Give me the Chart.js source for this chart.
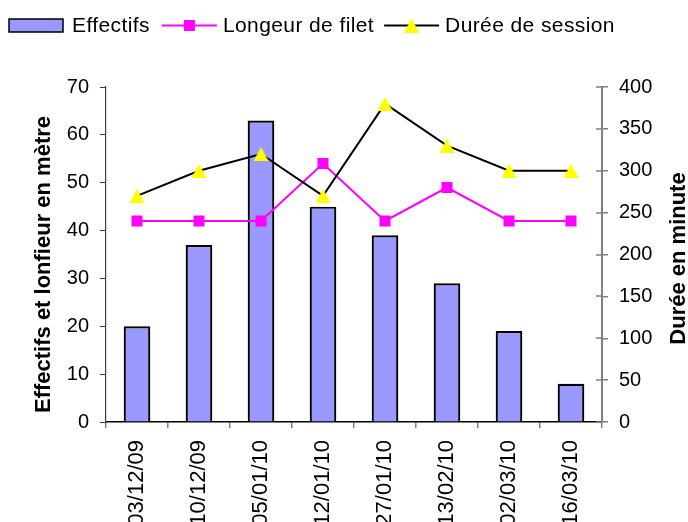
<!DOCTYPE html>
<html>
<head>
<meta charset="utf-8">
<script src="https://cdn.jsdelivr.net/npm/chart.js@4.4.1/dist/chart.umd.min.js"></script>
<style>
  html, body { margin: 0; padding: 0; background: #ffffff; }
  #wrap { width: 688px; height: 522px; }
</style>
</head>
<body>
<div id="wrap"><canvas id="c" width="688" height="522"></canvas></div>
<script>
// Fishing sessions: catch counts, net length (m) and session duration (min)
const dates = ['03/12/09', '10/12/09', '05/01/10', '12/01/10', '27/01/10', '13/02/10', '02/03/10', '16/03/10'];
const effectifs = [20, 37, 63, 45, 39, 29, 19, 8];
const longueurFilet = [42, 42, 42, 54, 42, 49, 42, 42];
const dureeSession = [270, 300, 320, 270, 380, 330, 300, 300];

const leftAxisRange = [0, 70, 10];    // min, max, step
const rightAxisRange = [0, 400, 50];  // min, max, step

const seriesNames = ['Effectifs', 'Longeur de filet', 'Durée de session'];
const axisTitles = ['Effectifs et lonfieur en mètre', 'Durée en minute'];

const FONT = '"Liberation Sans", Arial, sans-serif';

// Yellow triangle marker, centred on its bounding box
function triangleMarker(w, h, color) {
  const cv = document.createElement('canvas');
  cv.width = w; cv.height = h;
  const g = cv.getContext('2d');
  g.fillStyle = color;
  g.beginPath();
  g.moveTo(w / 2, 0);
  g.lineTo(w, h);
  g.lineTo(0, h);
  g.closePath();
  g.fill();
  return cv;
}
const triImg = triangleMarker(15, 14, '#FFFF00');

// Legend drawn in the Excel style: swatch / line+marker followed by the name
const seriesKey = {
  id: 'seriesKey',
  afterDraw(chart) {
    const ctx = chart.ctx;
    ctx.save();
    ctx.font = '21px ' + FONT;
    if ('letterSpacing' in ctx) ctx.letterSpacing = '0.4px';
    ctx.textBaseline = 'alphabetic';
    ctx.fillStyle = '#000';
    const cy = 25.5;
    let x = 9;
    chart.data.datasets.forEach((ds, i) => {
      if (ds.type === 'bar') {
        ctx.fillStyle = ds.backgroundColor;
        ctx.fillRect(x, cy - 6.5, 54, 13);
        ctx.strokeStyle = ds.borderColor;
        ctx.lineWidth = 1.5;
        ctx.strokeRect(x, cy - 6.5, 54, 13);
        x += 63;
      } else {
        ctx.strokeStyle = ds.borderColor;
        ctx.lineWidth = 2;
        ctx.beginPath();
        ctx.moveTo(x, cy);
        ctx.lineTo(x + 55, cy);
        ctx.stroke();
        const mx = x + 27.5;
        if (ds.pointStyle === 'rect') {
          ctx.fillStyle = ds.pointBackgroundColor;
          ctx.fillRect(mx - 5.5, cy - 5.5, 11, 11);
        } else {
          ctx.drawImage(ds.pointStyle, mx - ds.pointStyle.width / 2, cy - ds.pointStyle.height / 2);
        }
        x += 61;
      }
      ctx.fillStyle = '#000';
      ctx.fillText(ds.label, x, cy + 6.2);
      x += ctx.measureText(ds.label).width + (i === 0 ? 12 : 10);
    });
    ctx.restore();
  }
};

// Axis titles (both read bottom-to-top) and the inner half of the right-axis ticks
const axisDecor = {
  id: 'axisDecor',
  afterDraw(chart) {
    const ctx = chart.ctx;
    const ca = chart.chartArea;
    const r = chart.scales.y1;
    ctx.save();
    ctx.strokeStyle = '#808080';
    ctx.lineWidth = 1.5;
    ctx.beginPath();
    r.ticks.forEach((t, i) => {
      const py = Math.round(r.getPixelForTick(i));
      ctx.moveTo(r.left - 6, py);
      ctx.lineTo(r.left, py);
    });
    ctx.stroke();

    ctx.font = 'bold 22px ' + FONT;
    ctx.fillStyle = '#000';
    ctx.textAlign = 'center';
    ctx.textBaseline = 'alphabetic';
    const midY = (ca.top + ca.bottom) / 2;

    ctx.save();
    ctx.translate(50, midY + 10);
    ctx.rotate(-Math.PI / 2);
    ctx.fillText(axisTitles[0], 0, 0);
    ctx.restore();

    ctx.save();
    ctx.translate(685, midY + 4);
    ctx.rotate(-Math.PI / 2);
    ctx.fillText(axisTitles[1], 0, 0);
    ctx.restore();

    ctx.restore();
  }
};

new Chart(document.getElementById('c'), {
  data: {
    labels: dates,
    datasets: [
      {
        type: 'bar',
        label: seriesNames[0],
        data: effectifs,
        yAxisID: 'y',
        backgroundColor: '#9999FF',
        borderColor: '#000000',
        borderWidth: 2.2,
        categoryPercentage: 1,
        barPercentage: 0.43,
        order: 3
      },
      {
        type: 'line',
        label: seriesNames[1],
        data: longueurFilet,
        yAxisID: 'y',
        borderColor: '#FF00FF',
        borderWidth: 2,
        tension: 0,
        pointStyle: 'rect',
        pointRadius: 7.8,
        pointBackgroundColor: '#FF00FF',
        pointBorderWidth: 0,
        order: 2
      },
      {
        type: 'line',
        label: seriesNames[2],
        data: dureeSession,
        yAxisID: 'y1',
        borderColor: '#000000',
        borderWidth: 2,
        tension: 0,
        pointStyle: triImg,
        pointRadius: 8,
        pointBackgroundColor: '#FFFF00',
        pointBorderWidth: 0,
        order: 1
      }
    ]
  },
  options: {
    responsive: false,
    animation: false,
    devicePixelRatio: 1,
    layout: { padding: { top: 87, left: 0, right: 0, bottom: 0 } },
    plugins: {
      legend: { display: false },
      tooltip: { enabled: false }
    },
    scales: {
      x: {
        offset: true,
        grid: { offset: true, drawOnChartArea: false, tickLength: 6, color: '#808080', lineWidth: 1.5 },
        border: { color: '#000000', width: 1.5 },
        ticks: {
          font: { family: FONT, size: 22 },
          color: '#000',
          minRotation: 90,
          maxRotation: 90,
          autoSkip: false,
          padding: 12
        },
        afterFit(s) { s.height = 100; }
      },
      y: {
        position: 'left',
        min: leftAxisRange[0],
        max: leftAxisRange[1],
        ticks: {
          stepSize: leftAxisRange[2],
          font: { family: FONT, size: 20 },
          color: '#000',
          padding: 11
        },
        grid: { drawOnChartArea: false, tickLength: 6, color: '#404040', lineWidth: 1 },
        border: { color: '#404040', width: 1.2 },
        afterFit(s) { s.width = 106; }
      },
      y1: {
        position: 'right',
        min: rightAxisRange[0],
        max: rightAxisRange[1],
        ticks: {
          stepSize: rightAxisRange[2],
          font: { family: FONT, size: 20 },
          color: '#000',
          padding: 11
        },
        grid: { drawOnChartArea: false, tickLength: 6, color: '#808080', lineWidth: 1.5 },
        border: { color: '#808080', width: 2 },
        afterFit(s) { s.width = 86; }
      }
    }
  },
  plugins: [seriesKey, axisDecor]
});
</script>
</body>
</html>
